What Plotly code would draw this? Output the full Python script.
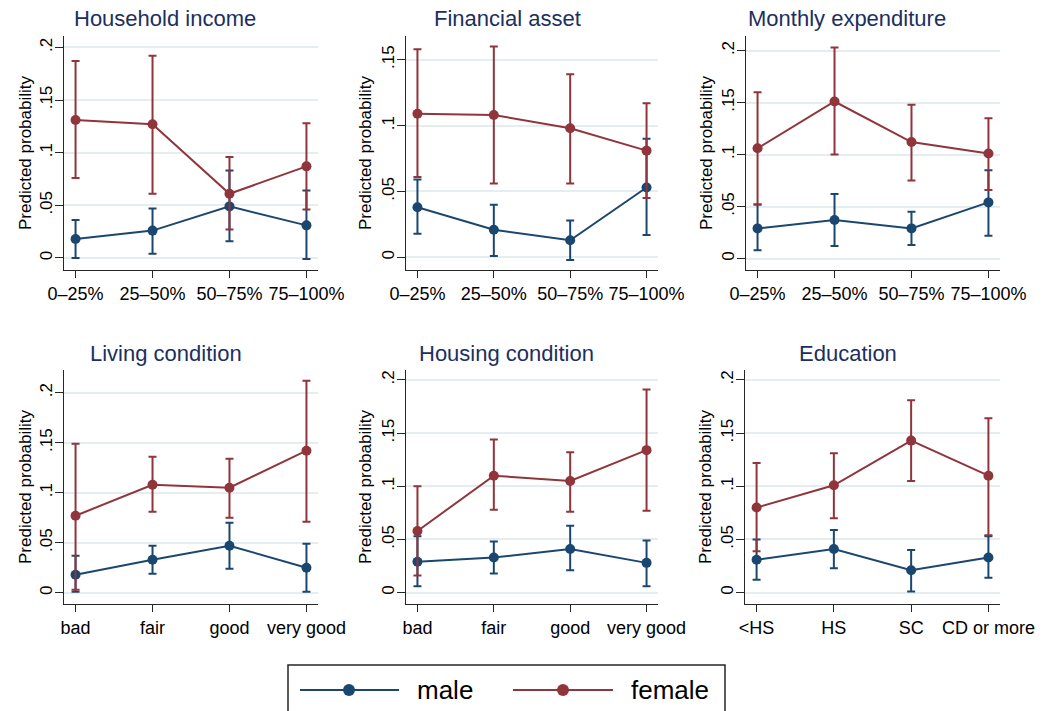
import plotly.graph_objects as go

# ---- categories -----------------------------------------------------------
quartiles = ["0–25%", "25–50%", "50–75%", "75–100%"]
conditions = ["bad", "fair", "good", "very good"]
education_levels = ["<HS", "HS", "SC", "CD or more"]

# ---- Household income -----------------------------------------------------
income_male = [0.018, 0.026, 0.049, 0.031]
income_male_lo = [0.000, 0.004, 0.016, -0.001]
income_male_hi = [0.036, 0.047, 0.083, 0.064]
income_female = [0.131, 0.127, 0.061, 0.087]
income_female_lo = [0.076, 0.061, 0.027, 0.046]
income_female_hi = [0.187, 0.192, 0.096, 0.128]

# ---- Financial asset ------------------------------------------------------
asset_male = [0.038, 0.021, 0.013, 0.053]
asset_male_lo = [0.018, 0.001, -0.002, 0.017]
asset_male_hi = [0.059, 0.040, 0.028, 0.090]
asset_female = [0.109, 0.108, 0.098, 0.081]
asset_female_lo = [0.061, 0.056, 0.056, 0.045]
asset_female_hi = [0.158, 0.160, 0.139, 0.117]

# ---- Monthly expenditure --------------------------------------------------
expend_male = [0.029, 0.037, 0.029, 0.054]
expend_male_lo = [0.008, 0.012, 0.013, 0.022]
expend_male_hi = [0.052, 0.062, 0.045, 0.085]
expend_female = [0.106, 0.151, 0.112, 0.101]
expend_female_lo = [0.052, 0.100, 0.075, 0.066]
expend_female_hi = [0.160, 0.203, 0.148, 0.135]

# ---- Living condition -----------------------------------------------------
living_male = [0.018, 0.033, 0.047, 0.025]
living_male_lo = [0.001, 0.019, 0.024, 0.001]
living_male_hi = [0.037, 0.047, 0.070, 0.049]
living_female = [0.077, 0.108, 0.105, 0.142]
living_female_lo = [0.003, 0.081, 0.075, 0.071]
living_female_hi = [0.149, 0.136, 0.134, 0.212]

# ---- Housing condition ----------------------------------------------------
housing_male = [0.029, 0.033, 0.041, 0.028]
housing_male_lo = [0.006, 0.018, 0.021, 0.006]
housing_male_hi = [0.053, 0.048, 0.063, 0.049]
housing_female = [0.058, 0.110, 0.105, 0.134]
housing_female_lo = [0.016, 0.078, 0.076, 0.077]
housing_female_hi = [0.100, 0.144, 0.132, 0.191]

# ---- Education ------------------------------------------------------------
edu_male = [0.031, 0.041, 0.021, 0.033]
edu_male_lo = [0.012, 0.023, 0.001, 0.014]
edu_male_hi = [0.050, 0.059, 0.040, 0.053]
edu_female = [0.080, 0.101, 0.143, 0.110]
edu_female_lo = [0.039, 0.070, 0.105, 0.054]
edu_female_hi = [0.122, 0.131, 0.181, 0.164]

y_ticks_full = [0, 0.05, 0.1, 0.15, 0.2]
y_ticks_short = [0, 0.05, 0.1, 0.15]
y_tick_text = {0: "0", 0.05: ".05", 0.1: ".1", 0.15: ".15", 0.2: ".2"}

MALE = "#1a476f"
FEMALE = "#90353b"
TITLE_C = "#1c2f5e"
GRID = "#e4edf0"
AXIS = "#262626"
FONT = "Liberation Sans, Arial, sans-serif"

W, H = 1047, 711

panels = [
    dict(title="Household income", cats=quartiles,
         m=(income_male, income_male_lo, income_male_hi),
         f=(income_female, income_female_lo, income_female_hi),
         yrange=[-0.0114, 0.2108], yticks=y_ticks_full,
         px=(64, 318), py=(36, 270), title_x=165, title_y=19, ytitle_x=25),
    dict(title="Financial asset", cats=quartiles,
         m=(asset_male, asset_male_lo, asset_male_hi),
         f=(asset_female, asset_female_lo, asset_female_hi),
         yrange=[-0.0096, 0.168], yticks=y_ticks_short,
         px=(406, 658), py=(36, 270), title_x=507, title_y=19, ytitle_x=365),
    dict(title="Monthly expenditure", cats=quartiles,
         m=(expend_male, expend_male_lo, expend_male_hi),
         f=(expend_female, expend_female_lo, expend_female_hi),
         yrange=[-0.011, 0.214], yticks=y_ticks_full,
         px=(746, 1000), py=(36, 270), title_x=847, title_y=19, ytitle_x=706),
    dict(title="Living condition", cats=conditions,
         m=(living_male, living_male_lo, living_male_hi),
         f=(living_female, living_female_lo, living_female_hi),
         yrange=[-0.0113, 0.2227], yticks=y_ticks_full,
         px=(64, 318), py=(370, 604), title_x=166, title_y=353, ytitle_x=25),
    dict(title="Housing condition", cats=conditions,
         m=(housing_male, housing_male_lo, housing_male_hi),
         f=(housing_female, housing_female_lo, housing_female_hi),
         yrange=[-0.0107, 0.2094], yticks=y_ticks_full,
         px=(406, 658), py=(370, 604), title_x=506, title_y=353, ytitle_x=365),
    dict(title="Education", cats=education_levels,
         m=(edu_male, edu_male_lo, edu_male_hi),
         f=(edu_female, edu_female_lo, edu_female_hi),
         yrange=[-0.0107, 0.2094], yticks=y_ticks_full,
         px=(745, 1000), py=(370, 604), title_x=848, title_y=353, ytitle_x=705),
]

fig = go.Figure()
annotations = []
layout_axes = {}

for i, p in enumerate(panels, start=1):
    xa = "x" if i == 1 else f"x{i}"
    ya = "y" if i == 1 else f"y{i}"
    for (est, lo, hi), color, name in ((p["m"], MALE, "male"), (p["f"], FEMALE, "female")):
        fig.add_trace(go.Scatter(
            x=p["cats"], y=est, xaxis=xa, yaxis=ya, name=name,
            mode="lines+markers", showlegend=False,
            line=dict(color=color, width=2),
            marker=dict(color=color, size=10),
            error_y=dict(type="data", symmetric=False,
                         array=[h - e for h, e in zip(hi, est)],
                         arrayminus=[e - l for e, l in zip(est, lo)],
                         color=color, thickness=2, width=4),
        ))
    x0, x1 = p["px"]
    top, bot = p["py"]
    key = "" if i == 1 else str(i)
    layout_axes[f"xaxis{key}"] = dict(
        domain=[x0 / W, x1 / W], anchor=ya, type="category",
        range=[-0.15, 3.15], tickmode="array", tickvals=p["cats"],
        ticktext=[c.replace("<", "&lt;") for c in p["cats"]],
        showgrid=False, zeroline=False, showline=True, linecolor=AXIS,
        linewidth=1.3, ticks="outside", ticklen=7, tickwidth=1.3,
        tickcolor=AXIS, automargin=False,
        tickfont=dict(size=18, color="black", family=FONT),
    )
    layout_axes[f"yaxis{key}"] = dict(
        domain=[1 - bot / H, 1 - top / H], anchor=xa,
        range=p["yrange"], tickmode="array", tickvals=p["yticks"],
        ticktext=[y_tick_text[v] for v in p["yticks"]], tickangle=-90,
        showgrid=True, gridcolor=GRID, gridwidth=1.5, zeroline=False,
        showline=True, linecolor=AXIS, linewidth=1.3, ticks="outside",
        ticklen=8, tickwidth=1.3, tickcolor=AXIS, ticklabelstandoff=-4,
        automargin=False,
        tickfont=dict(size=17, color="black", family=FONT),
    )
    annotations.append(dict(
        text=p["title"], x=p["title_x"] / W, y=1 - p["title_y"] / H,
        xref="paper", yref="paper", xanchor="center", yanchor="middle",
        showarrow=False, font=dict(size=22, color=TITLE_C, family=FONT)))
    annotations.append(dict(
        text="Predicted probability", x=p["ytitle_x"] / W,
        y=1 - (top + bot) / 2 / H, xref="paper", yref="paper",
        xanchor="center", yanchor="middle", textangle=-90,
        showarrow=False, font=dict(size=17, color="black", family=FONT)))

# ---- legend box drawn below the panels ------------------------------------
shapes = [dict(type="rect", xref="paper", yref="paper",
               x0=288 / W, x1=725 / W, y0=-0.05, y1=1 - 665 / H,
               line=dict(color=AXIS, width=1.5), fillcolor="white")]
for (lx0, lx1, dot, tx), color, label in (
        ((300, 399, 349, 415), MALE, "male"),
        ((513, 613, 563, 629), FEMALE, "female")):
    ly = 1 - 690 / H
    shapes.append(dict(type="line", xref="paper", yref="paper",
                       x0=lx0 / W, x1=lx1 / W, y0=ly, y1=ly,
                       line=dict(color=color, width=2)))
    shapes.append(dict(type="circle", xref="paper", yref="paper",
                       xsizemode="pixel", ysizemode="pixel",
                       xanchor=dot / W, yanchor=ly,
                       x0=-6, x1=6, y0=-6, y1=6,
                       line=dict(color=color, width=0), fillcolor=color))
    annotations.append(dict(text=label, x=tx / W, y=ly, xref="paper",
                            yref="paper", xanchor="left", yanchor="middle",
                            showarrow=False,
                            font=dict(size=26, color="black", family=FONT)))

fig.update_layout(
    width=W, height=H, autosize=False,
    margin=dict(l=0, r=0, t=0, b=0, pad=0),
    paper_bgcolor="white", plot_bgcolor="white",
    showlegend=False, font=dict(family=FONT),
    annotations=annotations, shapes=shapes,
    **layout_axes,
)

fig.write_html("out.html")
